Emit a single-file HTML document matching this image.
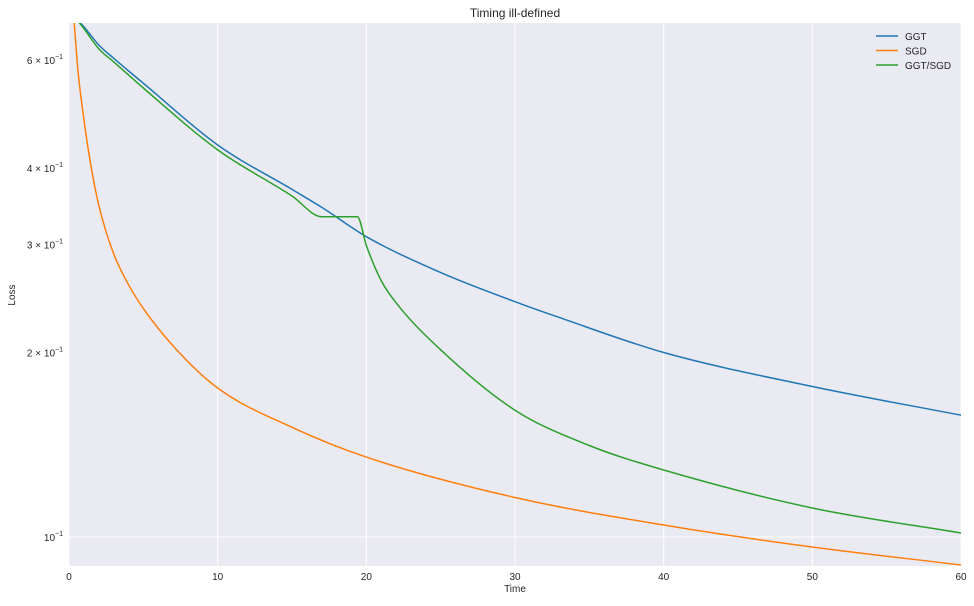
<!DOCTYPE html>
<html><head><meta charset="utf-8"><style>
body{margin:0;background:#fff;}
svg text{font-family:"Liberation Sans","DejaVu Sans",sans-serif;fill:#262626;}
</style></head><body>
<svg id="chart" width="974" height="601" xmlns="http://www.w3.org/2000/svg">
<rect x="69" y="23" width="892" height="543" fill="#eaeaf2"/>
<g id="grid"></g>
<g id="series"></g>
<g id="axes"></g>
<text x="515" y="17" text-anchor="middle" font-size="12">Timing ill-defined</text>
<text x="515" y="592" text-anchor="middle" font-size="10">Time</text>
<text x="15" y="295" text-anchor="middle" font-size="10" transform="rotate(-90 15 295)">Loss</text>
<g id="legend"></g>
</svg>
<script>
const xTicks=[0,10,20,30,40,50,60];
const yTickVals=[0.1,0.2,0.3,0.4,0.6];
const yTickMant=[null,2,3,4,6];
const seriesNames=["GGT","SGD","GGT/SGD"];
const seriesColors=["#1f77b4","#ff7f0e","#2ca02c"];
const ggtT=[0.5,1,2,3,5,10,15,17,20,25,30,33,40,50,60];
const ggtV=[0.70,0.68,0.635,0.604,0.55,0.436,0.369,0.345,0.309,0.270,0.242,0.228,0.200,0.176,0.158];
const sgdT=[0.35,0.6,1,1.5,2,3,4,5,7,10,15,20,30,40,50,60];
const sgdV=[0.69,0.578,0.48,0.40,0.348,0.29,0.258,0.236,0.205,0.175,0.151,0.135,0.116,0.1046,0.0963,0.090];
const mixT=[0.5,1,2,3,5,10,15,17,19.4,20,21,22,25,30,35,40,50,60];
const mixV=[0.70,0.675,0.626,0.596,0.54,0.428,0.360,0.333,0.333,0.299,0.262,0.241,0.202,0.161,0.141,0.1286,0.1115,0.1015];
const NS="http://www.w3.org/2000/svg";
const X0=69,X1=961,Y0=23,Y1=566;
function xs(t){return X0+(t-0)/(60-0)*(X1-X0);}
function ys(v){return 537-613*Math.log10(v/0.1);}
function mk(tag,attrs,parent){const e=document.createElementNS(NS,tag);for(const k in attrs)e.setAttribute(k,attrs[k]);parent.appendChild(e);return e;}
function monotonePath(px,py){
  const n=px.length,d=[],m=[];
  for(let i=0;i<n-1;i++)d.push((py[i+1]-py[i])/(px[i+1]-px[i]));
  for(let i=0;i<n;i++){
    if(i===0)m.push(d[0]);else if(i===n-1)m.push(d[n-2]);
    else m.push(d[i-1]*d[i]<=0?0:(d[i-1]+d[i])/2);
  }
  for(let i=0;i<n-1;i++){
    if(d[i]===0){m[i]=0;m[i+1]=0;continue;}
    const a=m[i]/d[i],b=m[i+1]/d[i],s=a*a+b*b;
    if(s>9){const t=3/Math.sqrt(s);m[i]=t*a*d[i];m[i+1]=t*b*d[i];}
  }
  let p='M'+px[0].toFixed(1)+','+py[0].toFixed(1);
  for(let i=0;i<n-1;i++){
    const h=(px[i+1]-px[i])/3;
    p+='C'+(px[i]+h).toFixed(1)+','+(py[i]+m[i]*h).toFixed(1)+' '+(px[i+1]-h).toFixed(1)+','+(py[i+1]-m[i+1]*h).toFixed(1)+' '+px[i+1].toFixed(1)+','+py[i+1].toFixed(1);
  }
  return p;
}
const grid=document.getElementById('grid'),axes=document.getElementById('axes');
xTicks.forEach(t=>{
  const l=mk('line',{x1:xs(t),x2:xs(t),y1:Y0,y2:Y1,stroke:'#fff','stroke-width':1},grid);
  
  
  const tx=mk('text',{x:xs(t),y:580,'text-anchor':'middle','font-size':10},axes);
  tx.textContent=t;
  
  
});
yTickVals.forEach((v,i)=>{
  const y=ys(v);
  if(i===0){
    const l=mk('line',{x1:X0,x2:X1,y1:y,y2:y,stroke:'#fff','stroke-width':1},grid);
    
    
  }
  const tx=mk('text',{x:63,y:y+4,'text-anchor':'end','font-size':10},axes);
  tx.innerHTML=(yTickMant[i]?yTickMant[i]+' × ':'')+'10<tspan dy="-5" font-size="7">−1</tspan>';
  
  
});
const defs=mk('defs',{},document.getElementById('chart'));
const cp=mk('clipPath',{id:'clip'},defs);mk('rect',{x:X0,y:Y0,width:X1-X0,height:Y1-Y0},cp);
const ser=document.getElementById('series');
[[ggtT,ggtV],[sgdT,sgdV],[mixT,mixV]].forEach((s,i)=>{
  const d=monotonePath(s[0].map(xs),s[1].map(ys));
  const p=mk('path',{d:d,fill:'none',stroke:seriesColors[i],'stroke-width':1.5,'clip-path':'url(#clip)'},ser);
  
  
});
const lg=document.getElementById('legend');
seriesNames.forEach((n,i)=>{
  const y=36+i*14.5;
  const l=mk('line',{x1:876,x2:898,y1:y,y2:y,stroke:seriesColors[i],'stroke-width':1.5},lg);
  
  
  const t=mk('text',{x:905,y:y+4,'font-size':10},lg);
  t.textContent=n;
  
  
});
</script>
</body></html>
